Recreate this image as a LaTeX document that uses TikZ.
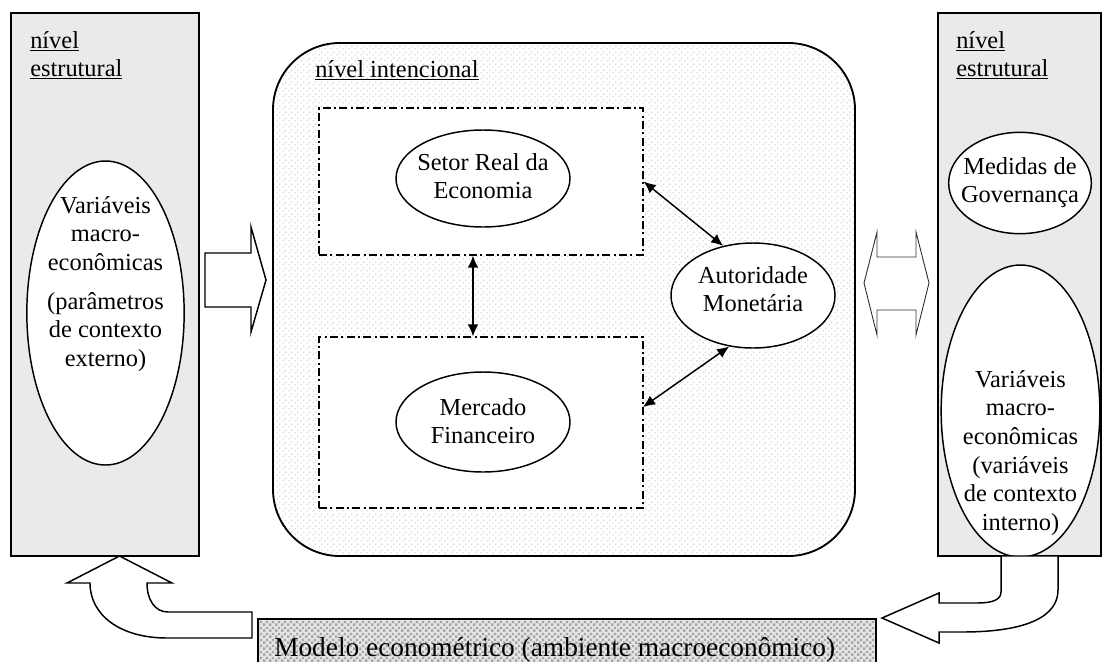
\documentclass[tikz,border=0pt]{standalone}
\usepackage{fontspec}
\setmainfont{Liberation Serif}
\usetikzlibrary{shapes.geometric,arrows.meta,patterns.meta}
\definecolor{boxgray}{RGB}{234,234,234}
\definecolor{sqbg}{RGB}{228,228,228}
\tikzdeclarepattern{name=lightdots, type=uncolored, tile size={(4.5pt,4.5pt)},
  bounding box={(0pt,0pt) and (4.5pt,4.5pt)},
  code={\fill (1.1pt,1.1pt) circle[radius=0.6pt]; \fill (3.35pt,3.35pt) circle[radius=0.6pt];}}
\tikzdeclarepattern{name=graysq, type=uncolored, tile size={(4.6pt,4.6pt)},
  bounding box={(0pt,0pt) and (4.6pt,4.6pt)},
  code={\fill (0.2pt,0.2pt) rectangle (2.1pt,2.1pt); \fill (2.5pt,2.5pt) rectangle (4.4pt,4.4pt);}}
\begin{document}
\begin{tikzpicture}[x=0.75pt,y=-0.75pt,
  font=\fontsize{18.3}{21.5}\selectfont,
  graybox/.style={draw, line width=1.1pt, fill=boxgray, inner sep=0pt},
  ell/.style={ellipse, draw, line width=1.1pt, fill=white, inner sep=0pt},
  txt/.style={align=center, inner sep=0pt, anchor=north},
  lbl/.style={inner sep=0pt, anchor=base west},
  ddbox/.style={draw, dash pattern=on 6pt off 2.5pt on 1.5pt off 2.5pt, line width=0.9pt, fill=white, inner sep=0pt},
  dbl/.style={{Latex[length=9pt,width=8pt]}-{Latex[length=9pt,width=8pt]}, line width=1.1pt},
  blockarrow/.style={draw, line width=1.1pt, fill=white, line join=miter},
  thinarrow/.style={draw=black!80, line width=0.7pt, fill=white, line join=miter}]
\useasboundingbox (0,0) rectangle (1112,661);

% side boxes
\node[graybox, minimum width=141pt, minimum height=407.25pt] (lbox) at (105,284.5) {};
\node[graybox, minimum width=122.25pt, minimum height=407.25pt] (rbox) at (1019.5,284.5) {};

% central box
\node[draw, line width=1.4pt, rounded corners=50pt, inner sep=0pt,
  preaction={fill=white}, pattern=lightdots, pattern color=gray!45,
  minimum width=436.5pt, minimum height=384.75pt] (cbox) at (564,299.5) {};

% bottom box
\node[draw, line width=1.1pt, inner sep=0pt, preaction={fill=sqbg},
  pattern=graysq, pattern color=gray!70,
  minimum width=463.5pt, minimum height=60.75pt] (mbox) at (567,659.5) {};
\node[lbl, font=\fontsize{20.5}{24}\selectfont] (mtxt) at (274,656) {Modelo econométrico (ambiente macroeconômico)};

% labels
\node[lbl] (l1) at (30,48) {\underline{nível}};
\node[lbl] (l2) at (30,76) {\underline{estrutural}};
\node[lbl] (r1) at (956,48) {\underline{nível}};
\node[lbl] (r2) at (956,76) {\underline{estrutural}};
\node[lbl] (ci) at (315,77) {\underline{nível intencional}};

% dash-dot boxes
\node[ddbox, minimum width=243pt, minimum height=110.25pt] (boxA) at (481,181.5) {};
\node[ddbox, minimum width=243pt, minimum height=128.25pt] (boxB) at (481,422.5) {};

% ellipses
\node[ell, minimum width=118pt, minimum height=228pt] (lell) at (105.5,313) {};
\node[txt] (lt) at (105.5,196) {Variáveis\\macro-\\econômicas\\[7.5pt](parâmetros\\de contexto\\externo)};

\node[ell, minimum width=130.5pt, minimum height=72.75pt] (setor) at (483,178.5) {};
\node[txt] (setort) at (483,153) {Setor Real da\\Economia};

\node[ell, minimum width=130.5pt, minimum height=75pt] (merc) at (483,422) {};
\node[txt] (merct) at (483,398) {Mercado\\Financeiro};

\node[ell, minimum width=123pt, minimum height=78.75pt] (auto) at (753,295.5) {};
\node[txt] (autot) at (753,266) {Autoridade\\Monetária};

\node[ell, minimum width=107pt, minimum height=76pt] (med) at (1020,183) {};
\node[txt] (medt) at (1020,157) {Medidas de\\Governança};

\node[ell, minimum width=119pt, minimum height=219pt] (rell) at (1020.5,411) {};
\node[txt] (rt) at (1020.5,370) {Variáveis\\macro-\\econômicas\\(variáveis\\de contexto\\interno)};

% connectors
\coordinate (vx) at (473,0);
\coordinate (pB) at (643,407);
\draw[dbl] (boxA.south -| vx) -- (boxB.north -| vx);
\draw[dbl] (boxA.east) -- (auto.121);
\draw[dbl] (pB) -- (auto.245);

% block arrow right
\draw[blockarrow] (205,253) -- (251,253) -- (251,227) -- (266,280) -- (251,332) -- (251,307) -- (205,307) -- cycle;

% double block arrow
\draw[thinarrow] (864,283) -- (877,232) -- (877,257) -- (916,257) -- (916,232) -- (929,283)
  -- (916,335) -- (916,310) -- (877,310) -- (877,335) -- cycle;

% left U-turn arrow (up)
\draw[blockarrow] (252,638) -- (167,638) .. controls (120,638) and (90,615) .. (90,583)
  -- (67,583) -- (119.5,556) -- (172,583) -- (147,583)
  .. controls (147,600) and (155,612) .. (168,612) -- (252,612) -- cycle;

% right U-turn arrow (left)
\draw[blockarrow] (1001,556) -- (1001,592) .. controls (1001,600) and (992,603) .. (977,603)
  -- (939,603) -- (939,593) -- (882,618) -- (939,643) -- (939,632) -- (962,632)
  .. controls (1030,632) and (1058,615) .. (1058,590) -- (1058,556) -- cycle;
\end{tikzpicture}
\end{document}
